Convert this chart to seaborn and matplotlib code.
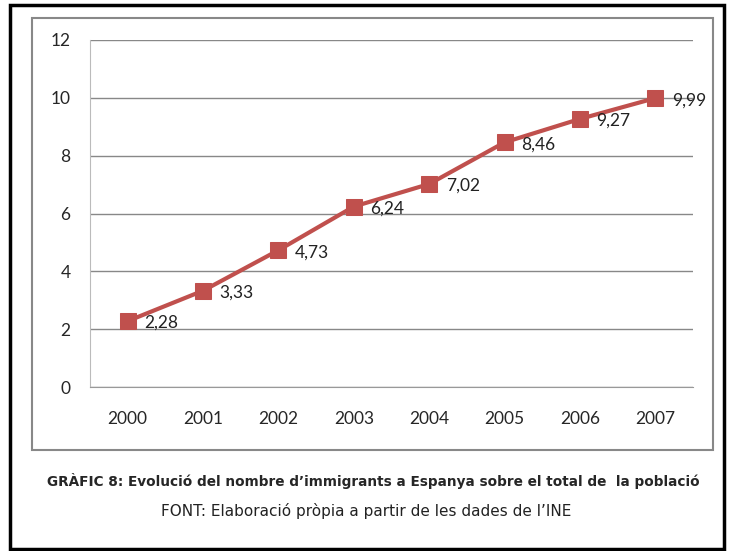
import matplotlib
matplotlib.use("Agg")
import matplotlib.pyplot as plt
import seaborn as sns
import pandas as pd
from matplotlib.patches import Rectangle

years = ["2000", "2001", "2002", "2003", "2004", "2005", "2006", "2007"]
values = [2.28, 3.33, 4.73, 6.24, 7.02, 8.46, 9.27, 9.99]
labels = ["2,28", "3,33", "4,73", "6,24", "7,02", "8,46", "9,27", "9,99"]
yticks = [0, 2, 4, 6, 8, 10, 12]
caption = "GRÀFIC 8: Evolució del nombre d’immigrants a Espanya sobre el total de  la població"
source = "FONT: Elaboració pròpia a partir de les dades de l’INE"

sns.set_style("white")
plt.rcParams["font.family"] = ["Lato", "DejaVu Sans"]

df = pd.DataFrame({"year": years, "value": values, "x": range(len(years))})

fig = plt.figure(figsize=(7.33, 5.51), dpi=100)
ax = fig.add_axes([90/733, 1-387/551, 603/733, 347/551])

red = "#C0504D"
sns.lineplot(data=df, x="x", y="value", ax=ax, color=red, linewidth=3,
             marker="s", markersize=11.5, markeredgecolor=red, markerfacecolor=red)

for i, (v, lab) in enumerate(zip(values, labels)):
    ax.text(i + 0.22, v - 0.07, lab, fontsize=12.5, va="center", ha="left", color="#222222")

ax.set_xlim(-0.5, len(years) - 0.5)
ax.set_ylim(0, 12)
ax.set_yticks(yticks)
ax.set_yticklabels([str(t) for t in yticks], fontsize=12.5)
ax.set_xticks(range(len(years)))
ax.set_xticklabels(years, fontsize=12.5)
ax.set_xticks([i - 0.5 for i in range(len(years) + 1)], minor=True)
ax.tick_params(axis="x", which="major", length=0, pad=17)
ax.tick_params(axis="x", which="minor", length=5, color="#999999", width=1, direction="out")
ax.tick_params(axis="y", length=6, color="#888888", width=1, direction="out", pad=8)
ax.grid(axis="y", color="#888888", linewidth=1)
ax.grid(axis="x", visible=False)
ax.set_xlabel("")
ax.set_ylabel("")
for s in ["top", "right"]:
    ax.spines[s].set_visible(False)
ax.spines["left"].set_color("#BBBBBB")
ax.spines["bottom"].set_color("#999999")
ax.set_axisbelow(True)

# frames
fig.patches.append(Rectangle((10/733, 1-549/551), 714/733, 544/551, transform=fig.transFigure,
                             fill=False, edgecolor="black", linewidth=2.5))
fig.patches.append(Rectangle((32/733, 1-450/551), 681/733, 432/551, transform=fig.transFigure,
                             fill=False, edgecolor="#888888", linewidth=1.5))

fig.text(373/733, 1-481/551, caption, fontsize=9.8, fontweight="bold", ha="center", va="center",
         family=["DejaVu Sans"])
fig.text(366/733, 1-511/551, source, fontsize=11, ha="center", va="center",
         family=["DejaVu Sans"], color="#222222")

fig.savefig("out.png", dpi=100)
